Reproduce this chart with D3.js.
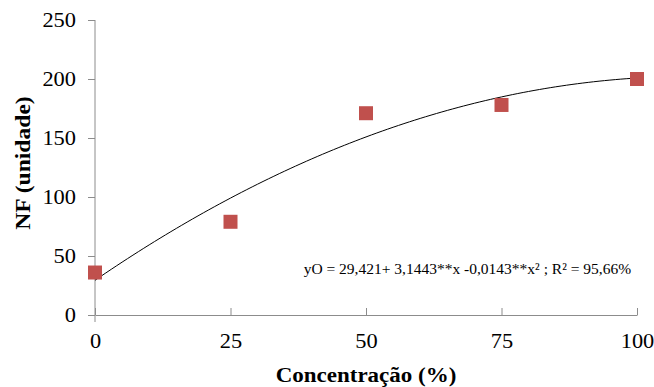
<!DOCTYPE html>
<html>
<head>
<meta charset="utf-8">
<script src="https://cdn.jsdelivr.net/npm/d3@7"></script>
<style>
body{margin:0;background:#fff;}
svg text{font-family:"Liberation Serif","Times New Roman",serif !important;fill:#000;}
.axis text{font-size:20px;}
.label{font-size:20px;font-weight:bold;}
</style>
</head>
<body>
<svg id="chart"></svg>
<script>
var concentracao = [0, 25, 50, 75, 100]
var nf = [36, 79, 171, 178, 200]
var xTicks = [0, 25, 50, 75, 100]
var yTicks = [0, 50, 100, 150, 200, 250]
// coeficientes da regressao mostrada no grafico
var coef = [29.421, 3.1443, -0.0143]
var equacao = "yO = 29,421+ 3,1443**x -0,0143**x² ; R² = 95,66%"

var screen = {width:654,height:387}
var margins = {left:95,right:17,top:20,bottom:72}
var graph = {
    width:screen.width-margins.left-margins.right,
    height:screen.height-margins.top-margins.bottom
}

var svg = d3.select("#chart")
    .attr("width",screen.width)
    .attr("height",screen.height)

var xScale = d3.scaleLinear().domain([0,100]).range([0,graph.width])
var yScale = d3.scaleLinear().domain([0,250]).range([graph.height,0])

var target = svg.append("g")
    .attr("transform","translate("+margins.left+","+margins.top+")")

// the original text is a bit stretched sideways
var stretch = 1.12

var xAxis = d3.axisBottom(xScale).tickValues(xTicks).tickSize(6).tickSizeOuter(0).tickPadding(13)
var gx = target.append("g")
    .attr("class","axis")
    .attr("transform","translate(0,"+graph.height+")")
    .call(xAxis)
gx.selectAll(".tick line").attr("y1",-7).attr("y2",0)
gx.selectAll(".tick text").attr("transform","scale("+stretch+",1)")

var yAxis = d3.axisLeft(yScale).tickValues(yTicks).tickSize(7).tickSizeOuter(0).tickPadding(10)
var gy = target.append("g")
    .attr("class","axis")
    .call(yAxis)
gy.selectAll(".tick text").attr("transform","scale("+stretch+",1)")
gy.select(".domain").attr("d","M0,0V"+(graph.height+7))

target.selectAll(".axis .domain, .axis line").attr("stroke","#8c8c8c")
target.selectAll(".axis").attr("font-family",null).attr("font-size",null)

// curva ajustada
var xs = d3.range(0,100.5,1)
var line = d3.line()
    .x(function(d){return xScale(d)})
    .y(function(d){return yScale(coef[0]+coef[1]*d+coef[2]*d*d)})
target.append("path")
    .datum(xs)
    .attr("d",line)
    .attr("fill","none")
    .attr("stroke","#000")
    .attr("stroke-width",1)

var s = 14
target.selectAll("rect.pt")
    .data(concentracao)
    .enter()
    .append("rect")
    .attr("class","pt")
    .attr("x",function(d){return xScale(d)-s/2})
    .attr("y",function(d,i){return yScale(nf[i])-s/2})
    .attr("width",s)
    .attr("height",s)
    .attr("fill","#c0504d")

target.append("text")
    .text(equacao)
    .attr("x",xScale(38.5))
    .attr("y",yScale(35))
    .style("font-size","15.5px")

svg.append("text")
    .attr("class","label")
    .text("Concentração (%)")
    .attr("text-anchor","middle")
    .attr("transform","translate("+(margins.left+graph.width/2)+",382) scale(1.15,1)")

svg.append("text")
    .attr("class","label")
    .text("NF (unidade)")
    .attr("text-anchor","middle")
    .attr("transform","translate(30,163) rotate(-90) scale(1.18,1)")
</script>
</body>
</html>
